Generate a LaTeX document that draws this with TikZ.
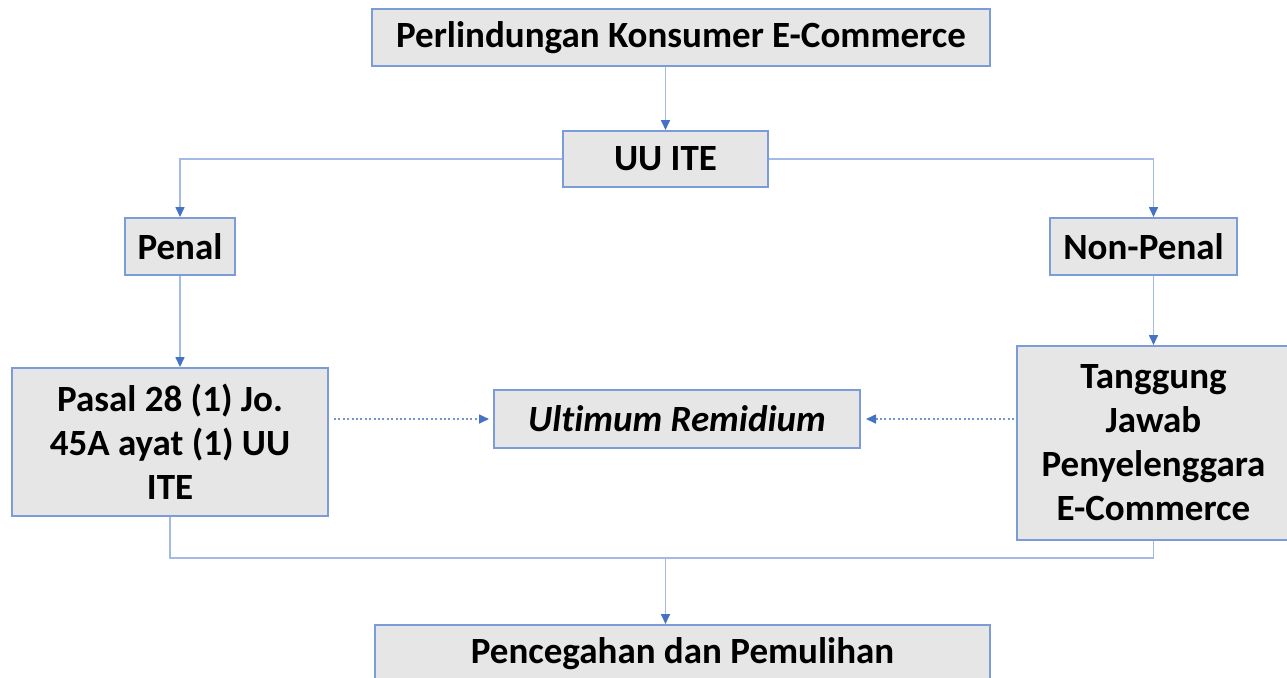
\documentclass[tikz,border=0pt]{standalone}
\usepackage{fontspec}
\setmainfont{Carlito}[Ligatures=NoCommon]
\usetikzlibrary{arrows.meta}
\definecolor{isikotak}{HTML}{E7E6E6}
\definecolor{tepikotak}{HTML}{7C9CD9}
\definecolor{garisbiru}{HTML}{A3BAE6}
\definecolor{ujungbiru}{HTML}{4472C4}
\begin{document}
\begin{tikzpicture}[x=0.5pt,y=-0.5pt,font=\bfseries\fontsize{18.5}{22}\selectfont]
	\tikzset{kotak/.style={draw=tepikotak,fill=isikotak,line width=1pt,inner sep=0pt,align=center},
		garis/.style={draw=garisbiru,line width=0.8pt},
		panah/.style={garis,-{Triangle[length=5pt,width=4.5pt,color=ujungbiru]}},
		titik/.style={panah,draw=ujungbiru!75,dash pattern=on 1pt off 1.2pt}}
	\useasboundingbox (0,0) rectangle (1287,677);
	\clip (0,0) rectangle (1287,677);
	% kotak-kotak
	\node[kotak,minimum width=309pt,minimum height=28.5pt] (konsumen) at (681,37.5) {Perlindungan Konsumer E-Commerce};
	\node[kotak,minimum width=102.5pt,minimum height=28pt] (uuite) at (665.5,159) {UU ITE};
	\node[kotak,minimum width=55pt,minimum height=28.5pt] (penal) at (180,246.5) {Penal};
	\node[kotak,minimum width=93.5pt,minimum height=28.5pt] (nonpenal) at (1143.5,246.5) {Non-Penal};
	\node[kotak,minimum width=158pt,minimum height=74pt] (pasal) at (170,442) {Pasal 28 (1) Jo.\\45A ayat (1) UU\\ITE};
	\node[kotak,minimum width=136.5pt,minimum height=97pt] (tanggung) at (1153.5,443) {Tanggung\\Jawab\\Penyelenggara\\E-Commerce};
	\node[kotak,minimum width=183pt,minimum height=29pt] (ultimum) at (677,419) {\itshape Ult\kern0pt imum Remidium};
	\node[kotak,minimum width=307.5pt,minimum height=29pt] (pencegahan) at (682.5,654) {Pencegahan dan Pemulihan};
	\coordinate (gabung) at (665.5,558);
	% penghubung
	\draw[panah] (uuite.north |- konsumen.south)--(uuite.north);
	\draw[panah] (uuite.west) -| (penal.north);
	\draw[panah] (uuite.east) -| (nonpenal.north -| tanggung.north);
	\draw[panah] (penal.south)--(penal.south |- pasal.north);
	\draw[panah] (tanggung.north |- nonpenal.south)--(tanggung.north);
	\draw[garis] (pasal.south) |- (gabung) -| (tanggung.south);
	\draw[panah] (gabung)--(gabung |- pencegahan.north);
	\draw[titik,shorten <=2.5pt,shorten >=2pt] (pasal.east |- ultimum.west)--(ultimum.west);
	\draw[titik,shorten <=1pt,shorten >=2.5pt] (tanggung.west |- ultimum.east)--(ultimum.east);
\end{tikzpicture}
\end{document}
